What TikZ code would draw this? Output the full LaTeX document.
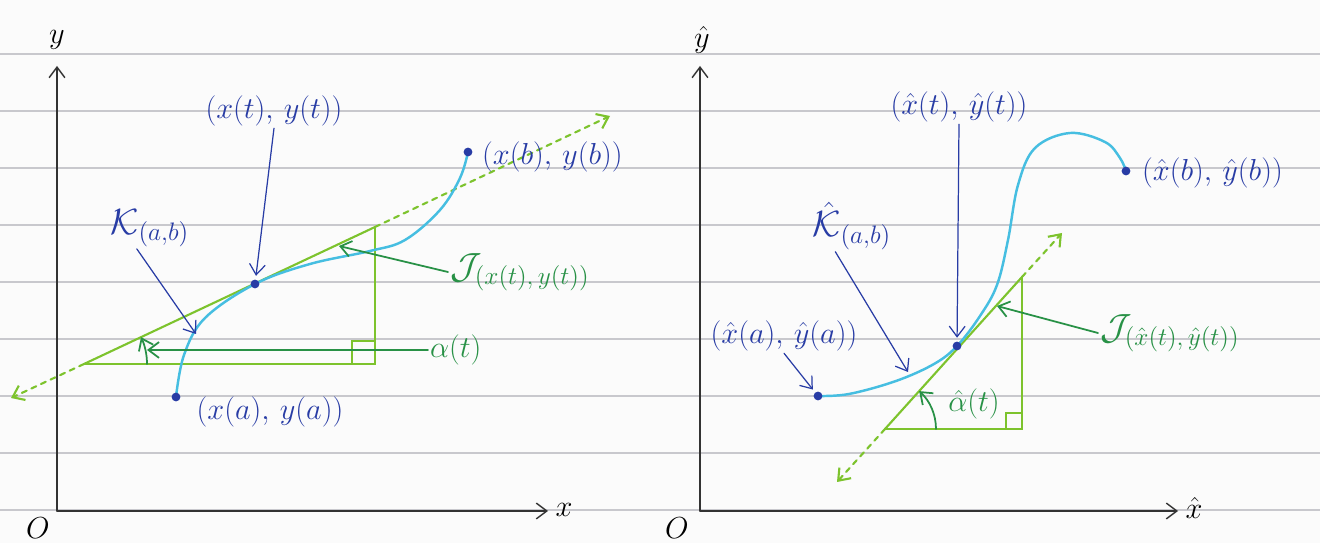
\documentclass[tikz,border=0pt]{standalone}
\usepackage{amsmath,amssymb}
\usepackage{tikz}
\usetikzlibrary{arrows.meta}
\definecolor{inkblue}{RGB}{40,60,165}
\definecolor{curvecyan}{RGB}{70,190,225}
\definecolor{tanggreen}{RGB}{125,195,45}
\definecolor{inkgreen}{RGB}{40,145,70}
\definecolor{paperrule}{RGB}{200,200,205}
\tikzset{lbl/.style={draw=none, fill=none, inner sep=1pt,
  font=\fontsize{16}{19}\selectfont, text=inkblue},
  glbl/.style={lbl, text=inkgreen},
  biglbl/.style={lbl, font=\fontsize{22}{26}\selectfont},
  dot/.style={circle, fill=inkblue, inner sep=0pt, minimum size=5pt},
  curve/.style={curvecyan, line width=1.4pt},
  tang/.style={tanggreen, line width=1.2pt},
  ptr/.style={->, inkblue, line width=0.7pt},
  gptr/.style={->, inkgreen, line width=1pt},
  axis/.style={->, black!80, line width=0.8pt}}

\begin{document}
\begin{tikzpicture}[x=0.02cm, y=-0.02cm, >={Straight Barb[length=6pt,width=9pt]},
  line cap=round]
  \useasboundingbox (0,0) rectangle (1320,543);
  \fill[white!97!gray] (0,0) rectangle (1320,543);
  % Paper rules
  \foreach \r in {54,111,...,510}
    \draw[paperrule, line width=0.6pt] (0,\r) -- (1320,\r);

  % Left plot: axes
  \coordinate (O1) at (57,511);
  \coordinate (ytip1) at (57,66);
  \coordinate (xtip1) at (548,511);
  \draw[axis] (O1) -- (ytip1);
  \draw[axis] (O1) -- (xtip1);
  \node[lbl, text=black] (o1) at (38,528) {$O$};
  \node[lbl, text=black] (ylab1) at (57,40) {$y$};
  \node[lbl, text=black] (xlab1) at (564,510) {$x$};
  % Left plot: tangent and triangle
  \coordinate (V1) at (84,364);
  \coordinate (R1) at (375,364);
  \coordinate (H1) at (375,227);
  \coordinate (F1) at (610,116);
  \coordinate (B1) at (11,398);
  \draw[tang] (V1) -- (H1);
  \draw[tang, dashed, ->] (H1) -- (F1);
  \draw[tang, dashed, ->] (V1) -- (B1);
  \draw[tang] (V1) -- (R1) -- (H1);
  \draw[tang, line width=0.9pt] (352,364) |- (375,341);
  \draw[gptr] (147,364) arc[start angle=0, end angle=-25.2, radius=63];
  % Left plot: curve
  \coordinate (A1) at (176,397);
  \coordinate (T1) at (255,284);
  \coordinate (E1) at (468,152);
  \draw[curve] plot[smooth, tension=0.6] coordinates {(A1) (184,355)
    (205,318) (T1) (310,264) (370,251) (405,240) (440,210) (460,178) (E1)};
  \node[dot] (a1) at (A1) {};
  \node[dot] (t1) at (T1) {};
  \node[dot] (b1) at (E1) {};
  % Left plot: labels
  \node[lbl] (lt1) at (274,111) {$(x(t),\,y(t))$};
  \node[lbl] (la1) at (270,412) {$(x(a),\,y(a))$};
  \node[lbl, anchor=west] (lb1) at (480,157) {$(x(b),\,y(b))$};
  \node[biglbl] (K1) at (150,228) {$\mathcal{K}_{(a,b)}$};
  \node[glbl, font=\fontsize{22}{26}\selectfont, anchor=west] (J1) at (448,272)
    {$\mathcal{J}_{(x(t),\,y(t))}$};
  \node[glbl, anchor=west] (al1) at (428,350) {$\alpha(t)$};
  \coordinate (kt1) at (196,334);
  \coordinate (jt1) at (339,246);
  \coordinate (at1) at (147,350);
  \draw[ptr, shorten >=2pt] (lt1.south) -- (t1);
  \draw[ptr] ([xshift=16pt]K1.south west) -- (kt1);
  \draw[gptr] (J1.west) -- (jt1);
  \draw[gptr] (al1.west) -- (at1);

  % Right plot: axes
  \coordinate (O2) at (700,511);
  \coordinate (ytip2) at (700,66);
  \coordinate (xtip2) at (1178,511);
  \draw[axis] (O2) -- (ytip2);
  \draw[axis] (O2) -- (xtip2);
  \node[lbl, text=black] (o2) at (677,528) {$O$};
  \node[lbl, text=black] (ylab2) at (702,40) {$\hat{y}$};
  \node[lbl, text=black] (xlab2) at (1194,508) {$\hat{x}$};
  % Right plot: tangent and triangle
  \coordinate (V2) at (885,429);
  \coordinate (R2) at (1022,429);
  \coordinate (H2) at (1022,277);
  \coordinate (F2) at (1062,233);
  \coordinate (B2) at (837,482);
  \draw[tang] (V2) -- (H2);
  \draw[tang, dashed, ->] (H2) -- (F2);
  \draw[tang, dashed, ->] (V2) -- (B2);
  \draw[tang] (V2) -- (R2) -- (H2);
  \draw[tang, line width=0.9pt] (1006,429) |- (1022,413);
  \draw[gptr] (936,429) arc[start angle=0, end angle=-48, radius=51];
  % Right plot: curve
  \coordinate (A2) at (818,396);
  \coordinate (T2) at (957,346);
  \coordinate (E2) at (1126,171);
  \draw[curve] plot[smooth, tension=0.6] coordinates {(A2) (849,394)
    (896,381) (934,364) (T2) (980,316) (997,285) (1008,240) (1018,185)
    (1035,148) (1070,133) (1105,142) (1120,158) (E2)};
  \node[dot] (a2) at (A2) {};
  \node[dot] (t2) at (T2) {};
  \node[dot] (b2) at (E2) {};
  % Right plot: labels
  \node[lbl] (lt2) at (959,107) {$(\hat{x}(t),\,\hat{y}(t))$};
  \node[lbl] (la2) at (784,336) {$(\hat{x}(a),\,\hat{y}(a))$};
  \node[lbl, anchor=west] (lb2) at (1140,173) {$(\hat{x}(b),\,\hat{y}(b))$};
  \node[biglbl] (K2) at (852,226) {$\hat{\mathcal{K}}_{(a,b)}$};
  \node[glbl, font=\fontsize{22}{26}\selectfont, anchor=west] (J2) at (1098,333)
    {$\mathcal{J}_{(\hat{x}(t),\,\hat{y}(t))}$};
  \node[glbl] (al2) at (974,404) {$\hat{\alpha}(t)$};
  \coordinate (kt2) at (908,372);
  \coordinate (jt2) at (997,306);
  \draw[ptr, shorten >=2pt] (lt2.south) -- (t2);
  \draw[ptr, shorten >=2pt] (la2.south) -- (a2);
  \draw[ptr] ([xshift=14pt]K2.south west) -- (kt2);
  \draw[gptr] (J2.west) -- (jt2);
\end{tikzpicture}
\end{document}
